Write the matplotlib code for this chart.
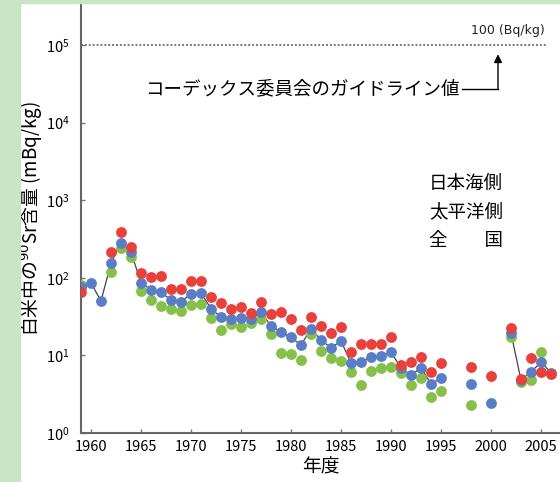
import numpy as np
import matplotlib.pyplot as plt
from matplotlib.patches import Rectangle

plt.rcParams['font.family'] = ['Noto Sans CJK JP', 'DejaVu Sans']

nan = np.nan
years = list(range(1959, 2007))
# 日本海側 / 太平洋側 / 全国 (mBq/kg), NaN = no survey that year
japan_sea = [66, nan, nan, 215, 390, 250, 115, 102, 105, 72, 72, 91, 91, 56, 47, 40,
             42, 35, 49, 34, 36, 29, 21, 31, 24, 19.4, 23, 11, 14, 14, 14, 17, 7.5,
             8.2, 9.5, 6.1, 8.0, nan, nan, 7.1, nan, 5.4, nan, 22.6, 5.0, 9.3, 6.1, 5.8]
pacific = [80, nan, nan, 118, 240, 185, 68, 52, 43, 40, 37, 45, 46, 30, 21, 25,
           23, 26, 29, 19, 10.7, 10.4, 8.7, 19, 11.4, 9.2, 8.5, 6.1, 4.2, 6.3, 6.9, 7.1, 5.9,
           4.2, 5.1, 2.9, 3.5, nan, nan, 2.3, nan, nan, nan, 17, 4.6, 4.8, 11, nan]
nationwide = [76, 86, 50, 155, 280, 215, 86, 70, 65, 52, 49, 62, 64, 40, 31, 29,
              30, 29, 36, 24, 20, 17, 13.6, 22, 15.8, 12.5, 15.3, 8.0, 8.2, 9.5, 9.8, 11, 6.9,
              5.6, 6.9, 4.3, 5.1, nan, nan, 4.3, nan, 2.4, nan, 19.4, 4.8, 6.1, 8.2, 6.0]

guideline = 1e5  # 100 Bq/kg expressed in mBq/kg

fig = plt.figure(figsize=(5.6, 4.82), dpi=100)
fig.patches.append(Rectangle((0, 0), 20 / 560, 1, transform=fig.transFigure,
                             color='#c9e5c3', zorder=0))
fig.patches.append(Rectangle((0, 1 - 3 / 482), 1, 3 / 482, transform=fig.transFigure,
                             color='#c9e5c3', zorder=0))

ax = fig.add_axes([81 / 560, 1 - 433 / 482, 1 - 81 / 560, 430 / 482])
ax.set_facecolor('none')

ax.plot(years, nationwide, color='#444444', lw=0.9, zorder=2)
ax.plot(years, pacific, 'o', color='#86c04a', ms=7.8, mec='none', zorder=3)
ax.plot(years, nationwide, 'o', color='#5a7ec6', ms=7.8, mec='none', zorder=4)
ax.plot(years, japan_sea, 'o', color='#e8413c', ms=7.8, mec='none', zorder=5)

ax.axhline(guideline, xmax=0.97, color='#777777', lw=1.4, ls=(0, (1, 1)))
ax.text(2005.4, 10 ** 5.18, '100 (Bq/kg)', ha='right', va='center', fontsize=9,
        family='DejaVu Sans', color='#222222')
ax.plot([1997.1, 2000.7], [10 ** 4.43] * 2, color='black', lw=1)
ax.annotate('', xy=(2000.7, 10 ** 4.88), xytext=(2000.7, 10 ** 4.43),
            arrowprops=dict(arrowstyle='-|>', color='black', lw=1,
                            mutation_scale=12, shrinkA=0, shrinkB=0))
ax.text(1996.9, 10 ** 4.43, 'コーデックス委員会のガイドライン値', ha='right', va='center',
        fontsize=13.3)

for label, ly in [('日本海側', 3.21), ('太平洋側', 2.85), ('全\u3000\u3000国', 2.47)]:
    ax.text(1993.8, 10 ** ly, label, ha='left', va='center', fontsize=13.3)

ax.set_yscale('log')
ax.set_ylim(1, 10 ** 5.54)
ax.set_xlim(1959, 2006.9)
ax.set_xticks(range(1960, 2006, 5))
ax.set_yticks([1, 10, 100, 1e3, 1e4, 1e5])
ax.minorticks_off()
ax.tick_params(direction='in', length=3, width=1, color='#777777', labelsize=10.5)
ax.tick_params(axis='y', pad=8)
ax.tick_params(axis='x', pad=5)
for side in ['top', 'right']:
    ax.spines[side].set_visible(False)
for side in ['left', 'bottom']:
    ax.spines[side].set_color('#666666')
    ax.spines[side].set_linewidth(1.5)

ax.set_xlabel('年度', fontsize=13.5, labelpad=2)
ax.set_ylabel('白米中の$^{90}$Sr含量 (mBq/kg)', fontsize=13.5, labelpad=1)

fig.savefig('out.png', dpi=100)
